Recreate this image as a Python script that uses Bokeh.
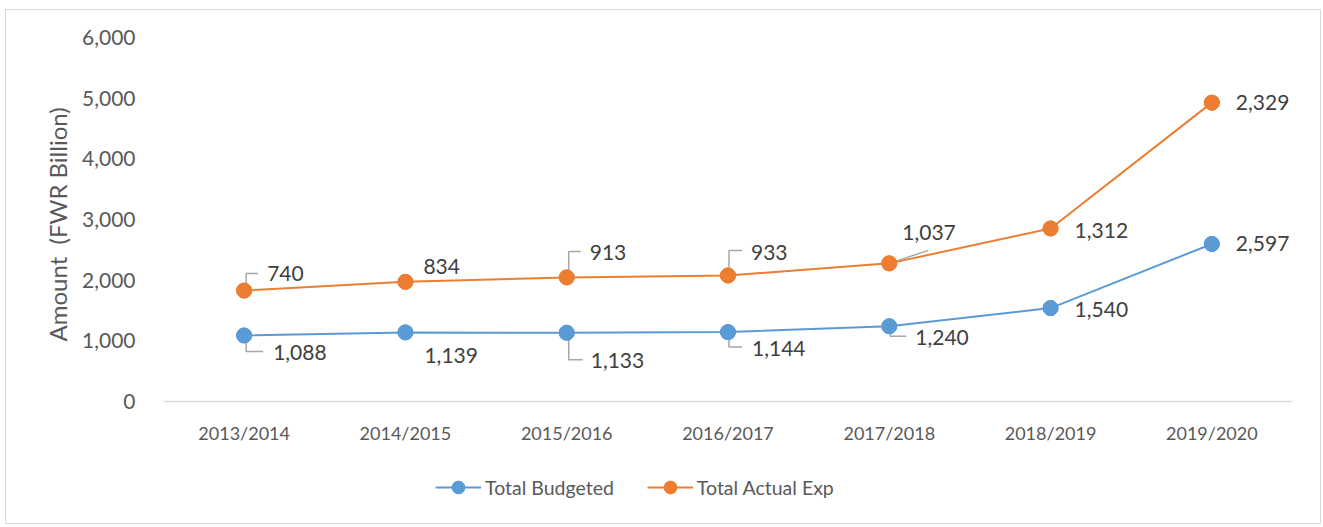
from bokeh.plotting import figure
from bokeh.models import (FactorRange, Range1d, NumeralTickFormatter, FixedTicker,
                          Legend, LegendItem, ColumnDataSource, Title)
from bokeh.core.properties import value
from bokeh.embed import file_html
from bokeh.resources import INLINE

# ---------------- data ----------------
years = ["2013/2014", "2014/2015", "2015/2016", "2016/2017",
         "2017/2018", "2018/2019", "2019/2020"]
budgeted = [1088, 1139, 1133, 1144, 1240, 1540, 2597]
actual_exp = [740, 834, 913, 933, 1037, 1312, 2329]
y_ticks = [0, 1000, 2000, 3000, 4000, 5000, 6000]

# stacked line: actual is drawn on top of budgeted
actual_stacked = [b + a for b, a in zip(budgeted, actual_exp)]

# ---------------- layout / style ----------------
W, H = 1316, 515
FL, FR, FT, FB = 157, 30, 27, 10
frame_w = W - FL - FR
frame_h = H - FT - FB
PLOT_H = 364                      # px between value 0 and 6000
YMAX = 6000
px_x = frame_w / len(years)       # px per category
px_y = PLOT_H / YMAX              # px per data unit
y_lo = -(frame_h - PLOT_H) / px_y  # room under the axis for labels + legend

BLUE = "#5B9BD5"
ORANGE = "#ED7D31"
LEADER = "#A6A6A6"
FONT = "Lato"

# label offsets (px, screen, y down) and leader polylines (px)
act_off = [(23, -17), (18, -15), (23, -25), (23, -23), (13, -31), (24, 2), (24, 0)]
bud_off = [(29, 17), (19, 23), (24, 28), (24, 16), (26, 11), (24, 1), (24, 0)]
act_lead = [[(2, 0), (2, -17), (14, -17)], None, [(2, 0), (2, -26), (14, -26)],
            [(1, 0), (1, -25), (14, -25)], [(0, 0), (39, -13)], None, None]
bud_lead = [[(2, 0), (2, 16), (19, 16)], None, [(2, 0), (2, 27), (16, 27)],
            [(1, 0), (1, 15), (14, 15)], [(1, 0), (1, 10), (17, 10)], None, None]

p = figure(width=W, height=H, x_range=FactorRange(*years), y_range=Range1d(y_lo, YMAX),
           output_backend="svg", toolbar_location=None,
           min_border_left=FL, min_border_right=FR, min_border_top=FT, min_border_bottom=FB)
p.styles = {"border": "1.5px solid #D9D9D9", "box-sizing": "border-box",
            "margin-left": "5px", "margin-top": "9px"}
p.outline_line_color = None
p.xgrid.grid_line_color = None
p.ygrid.grid_line_color = None
p.background_fill_color = "white"
p.border_fill_color = "white"

# axes
p.yaxis.ticker = FixedTicker(ticks=y_ticks)
p.yaxis.formatter = NumeralTickFormatter(format="0,0")
p.yaxis.axis_line_color = None
p.yaxis.major_tick_line_color = None
p.yaxis.minor_tick_line_color = None
p.yaxis.major_tick_out = 0
p.yaxis.major_label_standoff = 28
p.yaxis.major_label_text_font = FONT
p.yaxis.major_label_text_font_size = "21px"
p.yaxis.major_label_text_color = "#595959"

p.add_layout(Title(text="Amount\u00a0 (FWR Billion)", align="left", offset=174,
                   standoff=15, text_font=FONT, text_font_size="24px",
                   text_font_style="normal", text_color="#595959"), "left")

p.xaxis.fixed_location = 0
p.xaxis.axis_line_color = "#D9D9D9"
p.xaxis.axis_line_width = 1.5
p.xaxis.major_tick_line_color = None
p.xaxis.minor_tick_line_color = None
p.xaxis.major_tick_out = 0
p.xaxis.major_label_standoff = 20
p.xaxis.major_label_text_font = FONT
p.xaxis.major_label_text_font_size = "18px"
p.xaxis.major_label_text_color = "#595959"

# series
bsrc = ColumnDataSource(dict(x=years, y=budgeted))
asrc = ColumnDataSource(dict(x=years, y=actual_stacked))
bl = p.line("x", "y", source=bsrc, line_color=BLUE, line_width=2)
bs = p.scatter("x", "y", source=bsrc, size=15, fill_color=BLUE, line_color=BLUE)
al = p.line("x", "y", source=asrc, line_color=ORANGE, line_width=2)
as_ = p.scatter("x", "y", source=asrc, size=15, fill_color=ORANGE, line_color=ORANGE)

# leader lines
lx, ly = [], []
for vals, leads in ((budgeted, bud_lead), (actual_stacked, act_lead)):
    for i, (v, lead) in enumerate(zip(vals, leads)):
        if lead is None:
            continue
        lx.append([i + 0.5 + dx / px_x for dx, dy in lead])
        ly.append([v - dy / px_y for dx, dy in lead])
p.multi_line(lx, ly, line_color=LEADER, line_width=1.5)
# redraw markers above leaders
p.scatter("x", "y", source=bsrc, size=15, fill_color=BLUE, line_color=BLUE)
p.scatter("x", "y", source=asrc, size=15, fill_color=ORANGE, line_color=ORANGE)

# data labels
for vals, raw, offs in ((budgeted, budgeted, bud_off), (actual_stacked, actual_exp, act_off)):
    src = ColumnDataSource(dict(x=years, y=vals, t=[f"{v:,}" for v in raw],
                                dx=[o[0] for o in offs], dy=[o[1] for o in offs]))
    p.text("x", "y", text="t", source=src, x_offset="dx", y_offset="dy",
           text_align="left", text_baseline="middle",
           text_font=value(FONT), text_font_size="21px", text_color="#404040")

legend = Legend(items=[LegendItem(label="Total Budgeted", renderers=[bl, bs]),
                       LegendItem(label="Total Actual Exp", renderers=[al, as_])],
                orientation="horizontal", location=(272, 12),
                glyph_width=46, glyph_height=32, label_standoff=4, spacing=33,
                padding=5, margin=0, border_line_color=None, background_fill_alpha=0,
                label_text_font=FONT, label_text_font_size="19.5px", label_text_color="#595959")
p.add_layout(legend, "center")

open("out.html", "w").write(file_html(p, INLINE))
